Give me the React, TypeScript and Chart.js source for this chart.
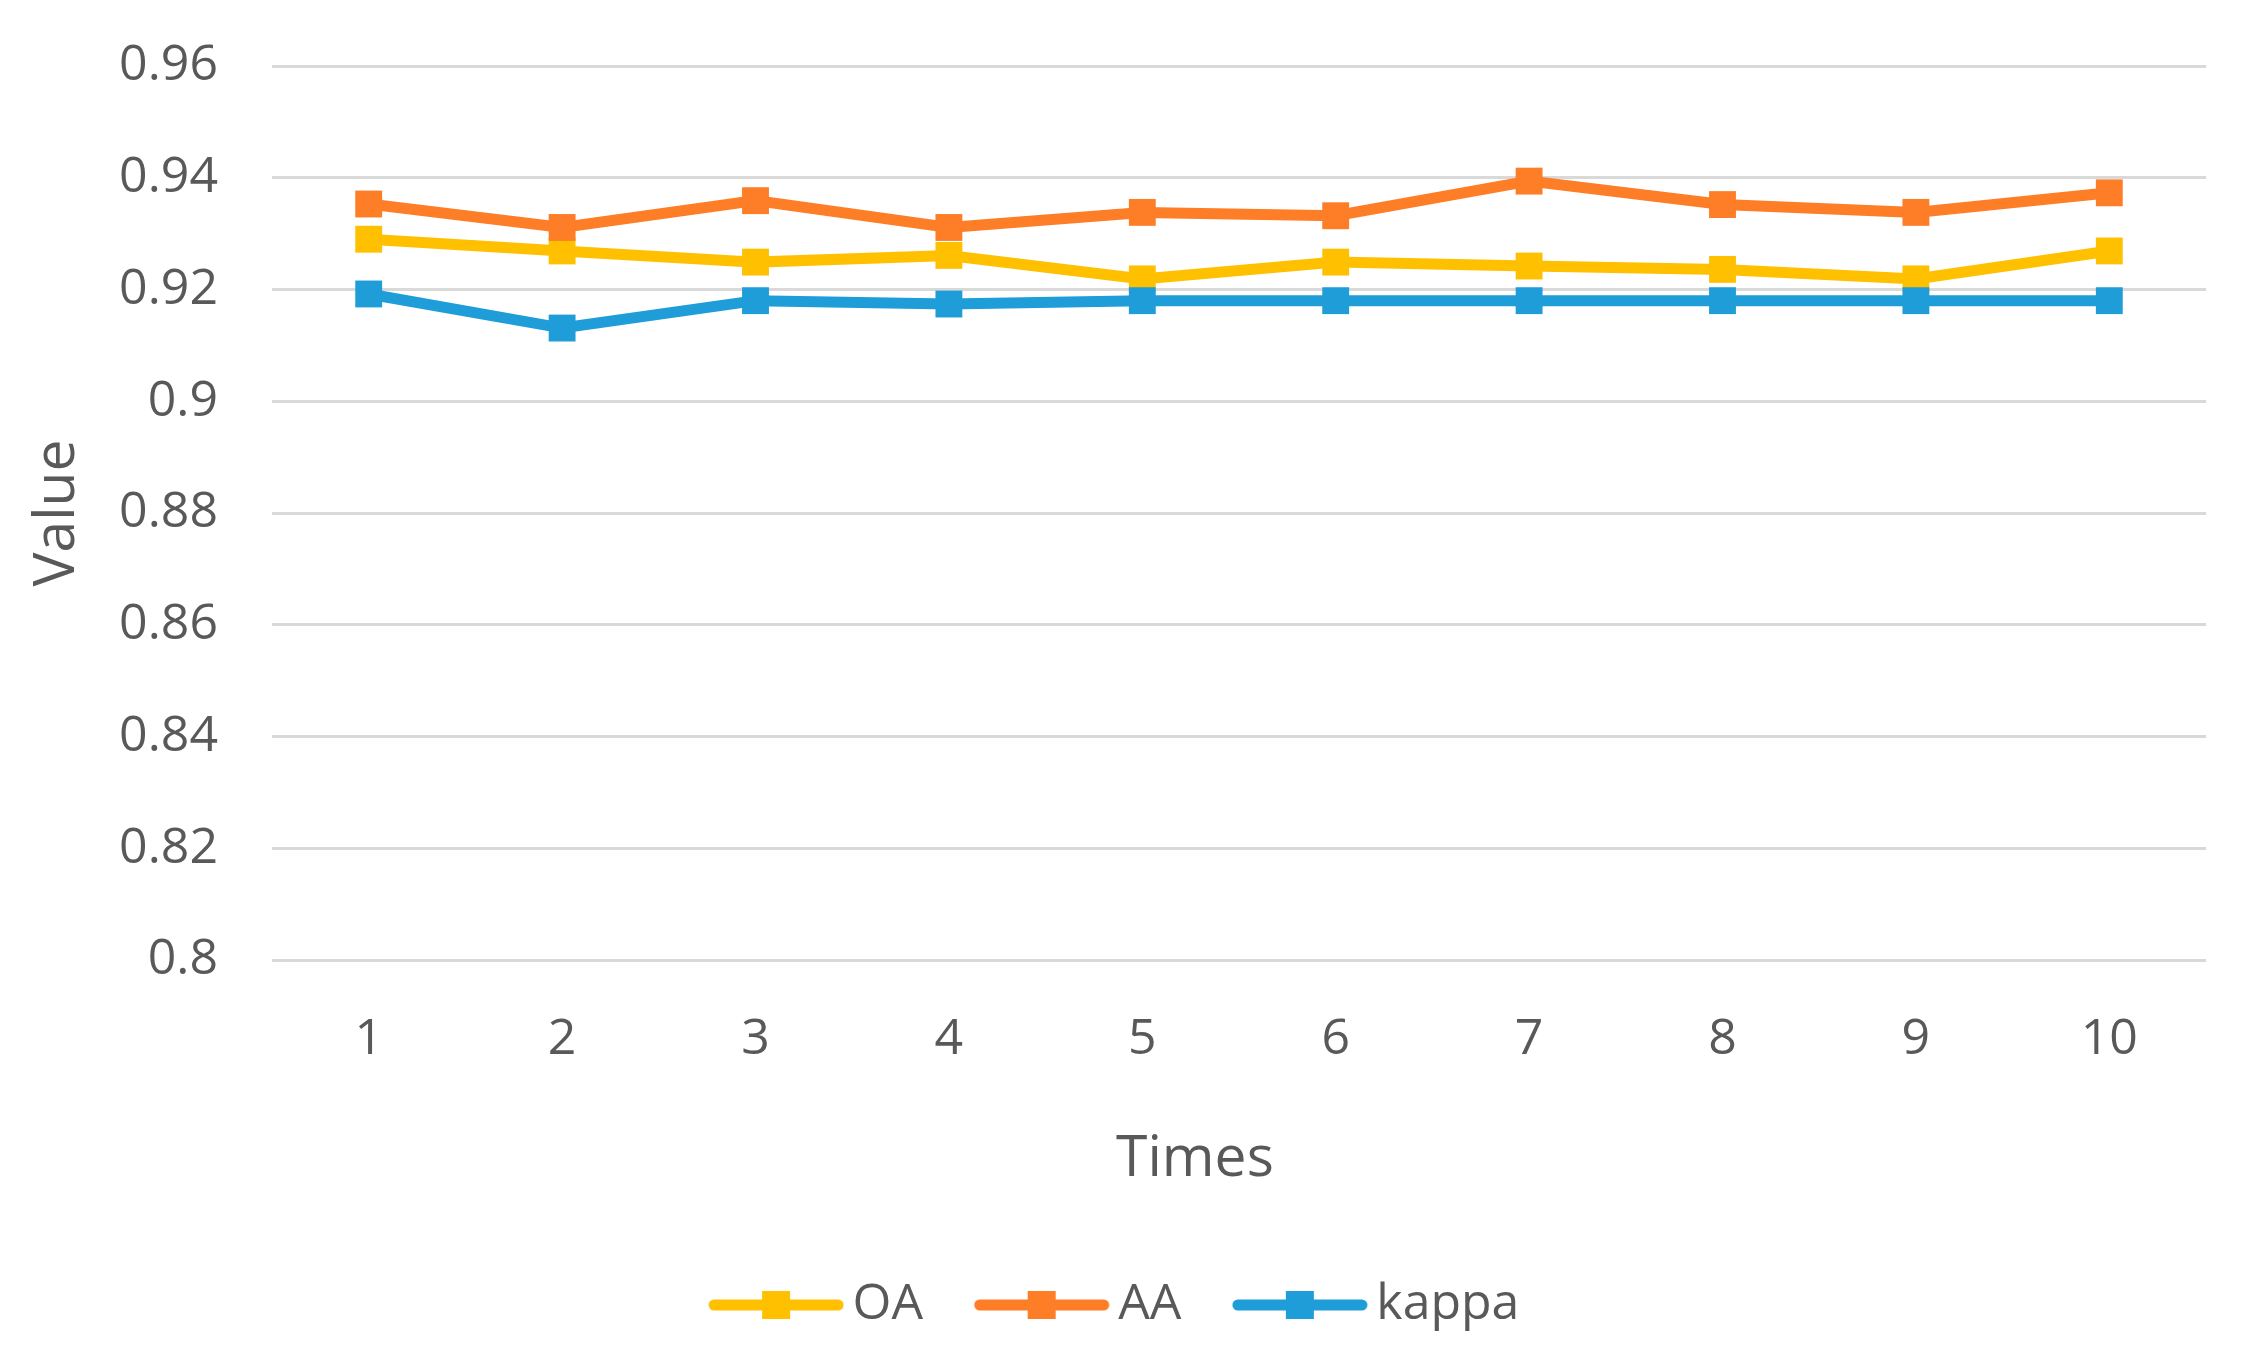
import React, { useEffect, useRef } from "react";
import { Chart, registerables } from "chart.js";

Chart.register(...registerables);

const categories = ["1", "2", "3", "4", "5", "6", "7", "8", "9", "10"];
const oaValues = [0.929, 0.9269, 0.9249, 0.9261, 0.9219, 0.9249, 0.9242, 0.9236, 0.9219, 0.9269];
const aaValues = [0.9353, 0.9311, 0.9359, 0.9311, 0.9338, 0.9332, 0.9394, 0.9352, 0.9338, 0.9373];
const kappaValues = [0.9192, 0.9131, 0.918, 0.9174, 0.918, 0.918, 0.918, 0.918, 0.918, 0.918];
const seriesNames = ["OA", "AA", "kappa"];
const seriesColors = ["#FFC000", "#FE7D27", "#1E9DD8"];
const yMin = 0.8;
const yMax = 0.96;
const yStep = 0.02;
const xTitle = "Times";
const yTitle = "Value";

const TEXT = "#595959";
const FONT = "'Open Sans', 'Noto Sans', sans-serif";

function makeLegendIcon(color: string): HTMLCanvasElement {
  const c = document.createElement("canvas");
  c.width = 136;
  c.height = 28;
  const ctx = c.getContext("2d")!;
  ctx.strokeStyle = color;
  ctx.lineWidth = 11;
  ctx.lineCap = "round";
  ctx.beginPath();
  ctx.moveTo(6, 14);
  ctx.lineTo(130, 14);
  ctx.stroke();
  ctx.fillStyle = color;
  ctx.fillRect(54, 0, 28, 28);
  return c;
}

const xTitlePlugin = {
  id: "xTitlePlugin",
  afterDraw(chart: any) {
    const { ctx, chartArea } = chart;
    ctx.save();
    ctx.fillStyle = TEXT;
    ctx.font = `57px ${FONT}`;
    ctx.textAlign = "center";
    ctx.textBaseline = "middle";
    ctx.fillText(xTitle, chart.width * 0.5325, chartArea.bottom + 200);
    ctx.restore();
  },
};

export default function App() {
  const ref = useRef<HTMLCanvasElement | null>(null);

  useEffect(() => {
    if (!ref.current) return;
    const icons = seriesColors.map((c) => makeLegendIcon(c));
    const values = [oaValues, aaValues, kappaValues];
    const chart = new Chart(ref.current, {
      type: "line",
      data: {
        labels: categories,
        datasets: seriesNames.map((name, i) => ({
          label: name,
          data: values[i],
          borderColor: seriesColors[i],
          backgroundColor: seriesColors[i],
          pointBackgroundColor: seriesColors[i],
          pointBorderColor: seriesColors[i],
          borderWidth: 11,
          pointStyle: "rect",
          pointRadius: 19,
          pointBorderWidth: 0,
          tension: 0,
          fill: false,
          order: 3 - i,
        })),
      },
      options: {
        animation: false,
        responsive: true,
        maintainAspectRatio: false,
        layout: { padding: { top: 66, right: 0, bottom: 28, left: 0 } },
        font: { family: FONT },
        plugins: {
          tooltip: { enabled: false },
          legend: {
            position: "bottom",
            labels: {
              usePointStyle: true,
              pointStyleWidth: 103,
              padding: 67,
              color: TEXT,
              font: { family: FONT, size: 50 },
              sort: (a: any, b: any) => a.datasetIndex - b.datasetIndex,
              generateLabels: (chart: any) => {
                const items = Chart.defaults.plugins.legend.labels.generateLabels(chart);
                items.forEach((it: any) => {
                  it.pointStyle = icons[it.datasetIndex];
                });
                return items;
              },
            },
          },
        },
        scales: {
          x: {
            type: "category",
            offset: true,
            grid: { display: false, drawTicks: false },
            border: { display: false },
            ticks: { color: TEXT, font: { family: FONT, size: 50 }, padding: 50, maxRotation: 0 },
            afterFit: (scale: any) => {
              scale.height = 253;
            },
          },
          y: {
            min: yMin,
            max: yMax,
            grid: { color: "#D9D9D9", lineWidth: 3, drawTicks: false },
            border: { display: false },
            ticks: {
              stepSize: yStep,
              color: TEXT,
              font: { family: FONT, size: 50 },
              padding: 54,
              callback: (v: any) => String(Math.round(Number(v) * 100) / 100),
            },
            title: {
              display: true,
              text: yTitle,
              color: TEXT,
              font: { family: FONT, size: 57 },
              padding: { top: 24, bottom: 0 },
            },
            afterFit: (scale: any) => {
              scale.width = 272;
              scale.paddingTop = 0;
              scale.paddingBottom = 0;
            },
          },
          yRightSpace: {
            type: "linear",
            position: "right",
            display: true,
            grid: { display: false, drawTicks: false },
            border: { display: false },
            ticks: { display: false },
            afterFit: (scale: any) => {
              scale.width = 38;
              scale.paddingTop = 0;
              scale.paddingBottom = 0;
            },
          },
        },
      },
      plugins: [xTitlePlugin],
    } as any);
    return () => chart.destroy();
  }, []);

  return (
    <div style={{ position: "absolute", left: 0, top: 0, width: 2244, height: 1368, background: "#fff" }}>
      <canvas ref={ref} />
    </div>
  );
}
